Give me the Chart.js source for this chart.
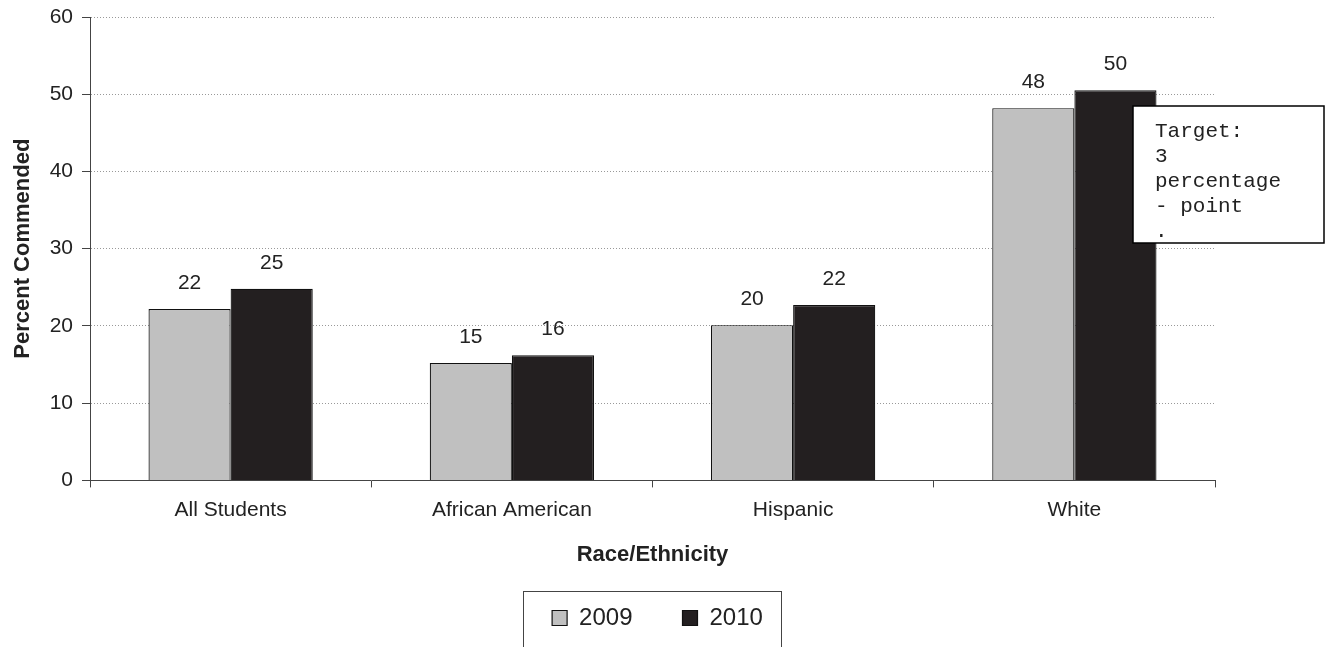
<!DOCTYPE html>
<html>
<head>
<meta charset="utf-8">
<script src="https://cdn.jsdelivr.net/npm/chart.js@4.4.0/dist/chart.umd.min.js"></script>
<style>
  html, body { margin: 0; padding: 0; background: #fff; }
  #wrap { width: 1332px; height: 647px; position: relative; }
</style>
</head>
<body>
<div id="wrap"><canvas id="chart"></canvas></div>
<script>
const categories = ['All Students', 'African American', 'Hispanic', 'White'];
const values2009 = [22.2, 15.2, 20.1, 48.2];
const values2010 = [24.8, 16.2, 22.7, 50.5];
const labels2009 = ['22', '15', '20', '48'];
const labels2010 = ['25', '16', '22', '50'];
const yTicks = [0, 10, 20, 30, 40, 50, 60];
const noteLines = ['Target:', '3', 'percentage', '- point', '.'];

const textColor = '#222';
const fontFamily = '"Liberation Sans", Arial, sans-serif';

// value labels above each bar
const barLabels = {
    id: 'barLabels',
    afterDatasetsDraw(chart) {
        const ctx = chart.ctx;
        const texts = [labels2009, labels2010];
        ctx.save();
        ctx.font = '21px ' + fontFamily;
        ctx.fillStyle = textColor;
        ctx.textAlign = 'center';
        ctx.textBaseline = 'alphabetic';
        chart.data.datasets.forEach((ds, i) => {
            chart.getDatasetMeta(i).data.forEach((bar, j) => {
                ctx.fillText(texts[i][j], bar.x, bar.y - 20);
            });
        });
        ctx.restore();
    }
};

// the "Target" note box and the frame around the legend
const extras = {
    id: 'extras',
    afterDraw(chart) {
        const ctx = chart.ctx;
        ctx.save();
        // note box
        const bx = 1133, by = 106, bw = 191, bh = 137;
        ctx.fillStyle = '#fff';
        ctx.fillRect(bx, by, bw, bh);
        ctx.strokeStyle = '#000';
        ctx.lineWidth = 1.5;
        ctx.strokeRect(bx, by, bw, bh);
        ctx.beginPath();
        ctx.rect(bx, by, bw, bh);
        ctx.clip();
        ctx.fillStyle = textColor;
        ctx.font = '21px "Liberation Mono", "Courier New", monospace';
        ctx.textBaseline = 'alphabetic';
        noteLines.forEach((t, i) => ctx.fillText(t, 1155, 137 + i * 25));
        ctx.restore();

        // legend frame
        const hb = chart.legend.legendHitBoxes;
        const last = hb[hb.length - 1];
        const left = hb[0].left - 29;
        const right = last.left + last.width + 18;
        const top = hb[0].top + hb[0].height / 2 - 27;
        ctx.save();
        ctx.strokeStyle = '#444';
        ctx.lineWidth = 1;
        ctx.strokeRect(Math.round(left) + 0.5, Math.round(top) + 0.5, Math.round(right - left), 80);
        ctx.restore();
    }
};

new Chart(document.getElementById('chart'), {
    type: 'bar',
    data: {
        labels: categories,
        datasets: [{
            label: '2009',
            data: values2009,
            backgroundColor: '#c0c0c0',
            borderColor: '#111',
            borderWidth: 1.2,
            borderSkipped: 'bottom'
        }, {
            label: '2010',
            data: values2010,
            backgroundColor: '#231f20',
            borderColor: '#111',
            borderWidth: 1.2,
            borderSkipped: 'bottom'
        }]
    },
    options: {
        responsive: true,
        maintainAspectRatio: false,
        animation: false,
        datasets: { bar: { categoryPercentage: 0.584, barPercentage: 1 } },
        layout: { padding: { top: 17, right: 17, left: 0, bottom: 7 } },
        plugins: {
            tooltip: { enabled: false },
            legend: {
                position: 'bottom',
                labels: {
                    color: textColor,
                    font: { size: 24, family: fontFamily },
                    boxWidth: 15,
                    boxHeight: 15,
                    padding: 50,
                    useBorderRadius: false
                },
                onClick: null
            }
        },
        scales: {
            x: {
                grid: {
                    display: true,
                    drawOnChartArea: false,
                    drawTicks: true,
                    tickLength: 7,
                    color: '#444',
                    offset: true
                },
                border: { color: '#444', width: 1 },
                ticks: {
                    color: textColor,
                    font: { size: 21, family: fontFamily },
                    padding: 10
                },
                title: {
                    display: true,
                    text: 'Race/Ethnicity',
                    color: textColor,
                    font: { size: 22, weight: 'bold', family: fontFamily },
                    padding: { top: 9, bottom: -12 }
                }
            },
            y: {
                min: 0,
                max: 60,
                afterBuildTicks(scale) {
                    scale.ticks = yTicks.map(v => ({ value: v }));
                },
                afterFit(scale) {
                    scale.width = 90;
                    scale.paddingTop = 0;
                },
                grid: {
                    color: '#999',
                    drawTicks: true,
                    tickLength: 8,
                    tickColor: '#444',
                    tickBorderDash: [1, 0]
                },
                border: { color: '#444', width: 1, dash: [1, 2] },
                ticks: {
                    color: textColor,
                    font: { size: 21, family: fontFamily },
                    padding: 9
                },
                title: {
                    display: true,
                    text: 'Percent Commended',
                    color: textColor,
                    font: { size: 22, weight: 'bold', family: fontFamily },
                    padding: { top: 10, bottom: 0 }
                }
            },
            // empty right margin so the plot ends where the note box begins
            yRight: {
                type: 'linear',
                position: 'right',
                min: 0,
                max: 60,
                grid: { display: false },
                border: { display: false },
                ticks: { display: false },
                afterFit(scale) {
                    scale.width = 100;
                    scale.paddingTop = 0;
                }
            }
        }
    },
    plugins: [barLabels, extras]
});
</script>
</body>
</html>
